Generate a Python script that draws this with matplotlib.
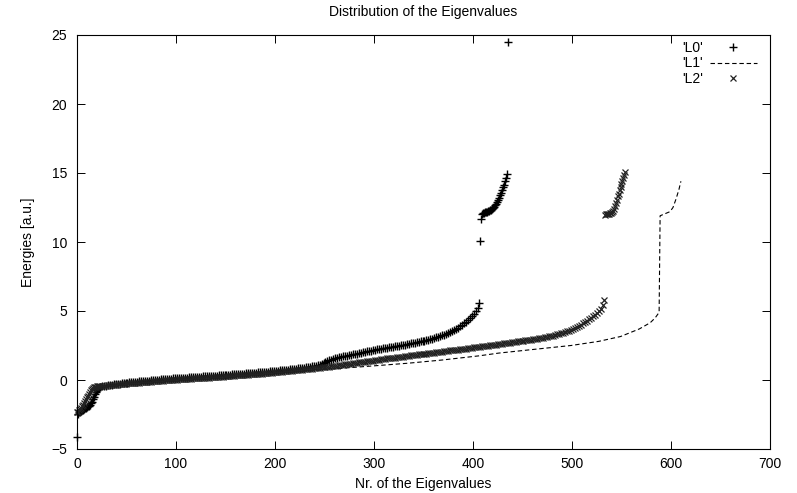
import matplotlib
matplotlib.use("Agg")
import matplotlib.pyplot as plt
from matplotlib.lines import Line2D

plt.rcParams["font.family"] = ["Liberation Sans Narrow", "Liberation Sans", "DejaVu Sans"]
plt.rcParams["font.size"] = 10

# eigenvalue numbers (dense parts are sampled every second eigenvalue)
l0_idx = list(range(0, 24)) + list(range(25, 406, 2)) + list(range(406, 436))
l0_val = [
    -4.1, -2.45, -2.35, -2.3, -2.25, -2.2, -2.15, -2.1, -2.05, -2.0,
    -1.95, -1.9, -1.85, -1.8, -1.7, -1.6, -1.4, -1.2, -1.0, -0.85,
    -0.72, -0.62, -0.55, -0.5,
    # every second eigenvalue
    -0.47, -0.44, -0.41, -0.38, -0.36, -0.34, -0.32, -0.30, -0.28, -0.26,
    -0.24, -0.22, -0.21, -0.19, -0.18, -0.16, -0.15, -0.13, -0.12, -0.10,
    -0.09, -0.08, -0.06, -0.05, -0.04, -0.02, -0.01, 0.00, 0.02, 0.03,
    0.04, 0.06, 0.07, 0.08, 0.09, 0.10, 0.11, 0.12, 0.13, 0.14,
    0.15, 0.16, 0.17, 0.18, 0.19, 0.20, 0.21, 0.22, 0.23, 0.24,
    0.25, 0.26, 0.27, 0.28, 0.28, 0.29, 0.30, 0.31, 0.32, 0.33,
    0.34, 0.35, 0.36, 0.37, 0.38, 0.39, 0.40, 0.42, 0.43, 0.44,
    0.45, 0.46, 0.47, 0.48, 0.49, 0.50, 0.52, 0.53, 0.54, 0.55,
    0.56, 0.57, 0.59, 0.60, 0.61, 0.62, 0.64, 0.65, 0.67, 0.68,
    0.70, 0.71, 0.73, 0.74, 0.76, 0.77, 0.79, 0.81, 0.82, 0.84,
    0.86, 0.88, 0.90, 0.92, 0.94, 0.96, 0.98, 1.00, 1.03, 1.06,
    1.10, 1.15, 1.21, 1.28, 1.35, 1.42, 1.48, 1.53, 1.57, 1.61,
    1.65, 1.68, 1.71, 1.74, 1.77, 1.80, 1.83, 1.86, 1.89, 1.92,
    1.95, 1.98, 2.01, 2.04, 2.07, 2.10, 2.13, 2.16, 2.19, 2.22,
    2.25, 2.27, 2.30, 2.32, 2.35, 2.37, 2.40, 2.42, 2.45, 2.47,
    2.50, 2.52, 2.55, 2.57, 2.60, 2.62, 2.65, 2.67, 2.70, 2.73,
    2.76, 2.79, 2.82, 2.85, 2.88, 2.92, 2.96, 3.00, 3.04, 3.08,
    3.13, 3.18, 3.23, 3.29, 3.35, 3.41, 3.48, 3.55, 3.63, 3.71,
    3.80, 3.89, 3.99, 4.10, 4.22, 4.35, 4.49, 4.64, 4.81, 5.00,
    5.25,
    # upper branch, every eigenvalue
    5.55, 10.1, 11.7, 12.05, 12.1, 12.12, 12.15, 12.17, 12.2, 12.23,
    12.26, 12.3, 12.35, 12.4, 12.47, 12.55, 12.65, 12.77, 12.9, 13.05,
    13.2, 13.38, 13.56, 13.75, 13.95, 14.15, 14.4, 14.65, 14.9, 24.5,
]

l2_idx = list(range(0, 24)) + list(range(25, 532, 2)) + list(range(532, 555))
l2_val = [
    -2.35, -2.3, -2.2, -2.1, -2.0, -1.9, -1.8, -1.7, -1.55, -1.4,
    -1.25, -1.15, -1.0, -0.85, -0.72, -0.62, -0.56, -0.52, -0.5, -0.48,
    -0.47, -0.46, -0.45, -0.44,
    # every second eigenvalue
    -0.43, -0.41, -0.40, -0.38, -0.37, -0.36, -0.34, -0.33, -0.32, -0.30,
    -0.29, -0.28, -0.27, -0.25, -0.24, -0.23, -0.22, -0.21, -0.20, -0.19,
    -0.17, -0.16, -0.15, -0.14, -0.13, -0.12, -0.10, -0.09, -0.08, -0.07,
    -0.06, -0.05, -0.03, -0.02, -0.01, 0.00, 0.01, 0.02, 0.03, 0.04,
    0.05, 0.06, 0.07, 0.08, 0.09, 0.10, 0.11, 0.12, 0.13, 0.14,
    0.15, 0.16, 0.17, 0.18, 0.18, 0.19, 0.20, 0.21, 0.22, 0.23,
    0.24, 0.25, 0.26, 0.27, 0.28, 0.29, 0.30, 0.32, 0.33, 0.34,
    0.35, 0.36, 0.37, 0.38, 0.39, 0.40, 0.42, 0.43, 0.44, 0.45,
    0.46, 0.47, 0.49, 0.50, 0.51, 0.52, 0.54, 0.55, 0.56, 0.58,
    0.59, 0.61, 0.62, 0.64, 0.65, 0.67, 0.68, 0.70, 0.71, 0.73,
    0.74, 0.76, 0.77, 0.79, 0.80, 0.82, 0.83, 0.85, 0.86, 0.88,
    0.89, 0.91, 0.92, 0.94, 0.95, 0.97, 0.99, 1.01, 1.03, 1.05,
    1.07, 1.09, 1.11, 1.13, 1.15, 1.17, 1.19, 1.21, 1.23, 1.25,
    1.27, 1.29, 1.31, 1.33, 1.35, 1.37, 1.39, 1.41, 1.43, 1.45,
    1.47, 1.49, 1.52, 1.54, 1.56, 1.58, 1.60, 1.62, 1.63, 1.65,
    1.67, 1.69, 1.70, 1.72, 1.74, 1.76, 1.78, 1.79, 1.81, 1.83,
    1.85, 1.87, 1.88, 1.90, 1.92, 1.94, 1.96, 1.97, 1.99, 2.01,
    2.03, 2.05, 2.06, 2.08, 2.10, 2.12, 2.14, 2.15, 2.17, 2.19,
    2.21, 2.23, 2.24, 2.26, 2.28, 2.30, 2.32, 2.34, 2.36, 2.37,
    2.39, 2.41, 2.43, 2.45, 2.47, 2.49, 2.51, 2.53, 2.55, 2.57,
    2.59, 2.61, 2.63, 2.65, 2.67, 2.69, 2.71, 2.73, 2.75, 2.77,
    2.79, 2.81, 2.83, 2.85, 2.87, 2.89, 2.91, 2.93, 2.95, 2.97,
    2.99, 3.01, 3.04, 3.07, 3.10, 3.13, 3.16, 3.19, 3.22, 3.26,
    3.30, 3.34, 3.38, 3.42, 3.47, 3.52, 3.57, 3.64, 3.71, 3.78,
    3.86, 3.94, 4.02, 4.11, 4.20, 4.30, 4.40, 4.50, 4.61, 4.73,
    4.86, 5.00, 5.18, 5.45,
    # upper branch, every eigenvalue
    5.8, 11.95, 12.0, 12.02, 12.04, 12.06, 12.08, 12.1, 12.15, 12.25,
    12.4, 12.6, 12.85, 13.05, 13.3, 13.5, 13.75, 13.95, 14.2, 14.4,
    14.65, 14.85, 15.1,
]

l1_idx = [0, 4, 9, 14, 17, 19, 24, 29, 39, 59, 99, 149, 199, 254, 299, 335,
          369, 406, 426, 459, 499, 527, 549, 568, 579, 584, 588, 589, 594,
          599, 602, 605, 608, 610]
l1_val = [-2.4, -2.15, -1.95, -1.6, -1.1, -0.8, -0.5, -0.42, -0.33, -0.18,
          0.0, 0.22, 0.45, 0.78, 1.02, 1.22, 1.45, 1.75, 1.95, 2.2, 2.5, 2.8,
          3.15, 3.7, 4.15, 4.5, 4.9, 11.9, 12.05, 12.2, 12.5, 13.1, 13.8, 14.4]

W, H = 797, 493
fig = plt.figure(figsize=(W / 100, H / 100), dpi=100)
ax = fig.add_axes([77 / W, 44 / H, 693 / W, 414 / H])

plus_style = dict(ls="none", marker="+", ms=6, mew=1.0, color="black")
cross_style = dict(ls="none", marker="x", ms=5, mew=0.9, color="#222222")
dash_style = dict(ls=(0, (4, 2.5)), lw=0.8, color="black")

ax.plot(l0_idx, l0_val, clip_on=False, **plus_style)
ax.plot(l1_idx, l1_val, **dash_style)
ax.plot(l2_idx, l2_val, clip_on=False, **cross_style)

ax.set_xlim(0, 700)
ax.set_ylim(-5, 25)
ax.set_xticks(range(0, 701, 100))
ax.set_yticks(range(-5, 26, 5))
ax.tick_params(direction="in", top=True, right=True, length=5.5, width=0.7,
               labelsize=10)
ax.tick_params(axis="x", pad=6)
ax.tick_params(axis="y", pad=7)
for s in ax.spines.values():
    s.set_linewidth(0.8)

ax.set_title("Distribution of the Eigenvalues", fontsize=10, pad=14)
ax.set_xlabel("Nr. of the Eigenvalues", fontsize=10, labelpad=4)
ax.set_ylabel("Energies [a.u.]", fontsize=10, labelpad=12)

handles = [Line2D([], [], **plus_style), Line2D([], [], **dash_style),
           Line2D([], [], **cross_style)]
ax.legend(handles, ["'L0'", "'L1'", "'L2'"], loc="upper right",
          bbox_to_anchor=(757 / W, 1 - 41 / H), bbox_transform=fig.transFigure,
          frameon=False, markerfirst=False, numpoints=1, handlelength=3.4,
          handletextpad=0.5, labelspacing=0.1, borderpad=0, borderaxespad=0,
          fontsize=10)

fig.savefig("out.png", dpi=100)
